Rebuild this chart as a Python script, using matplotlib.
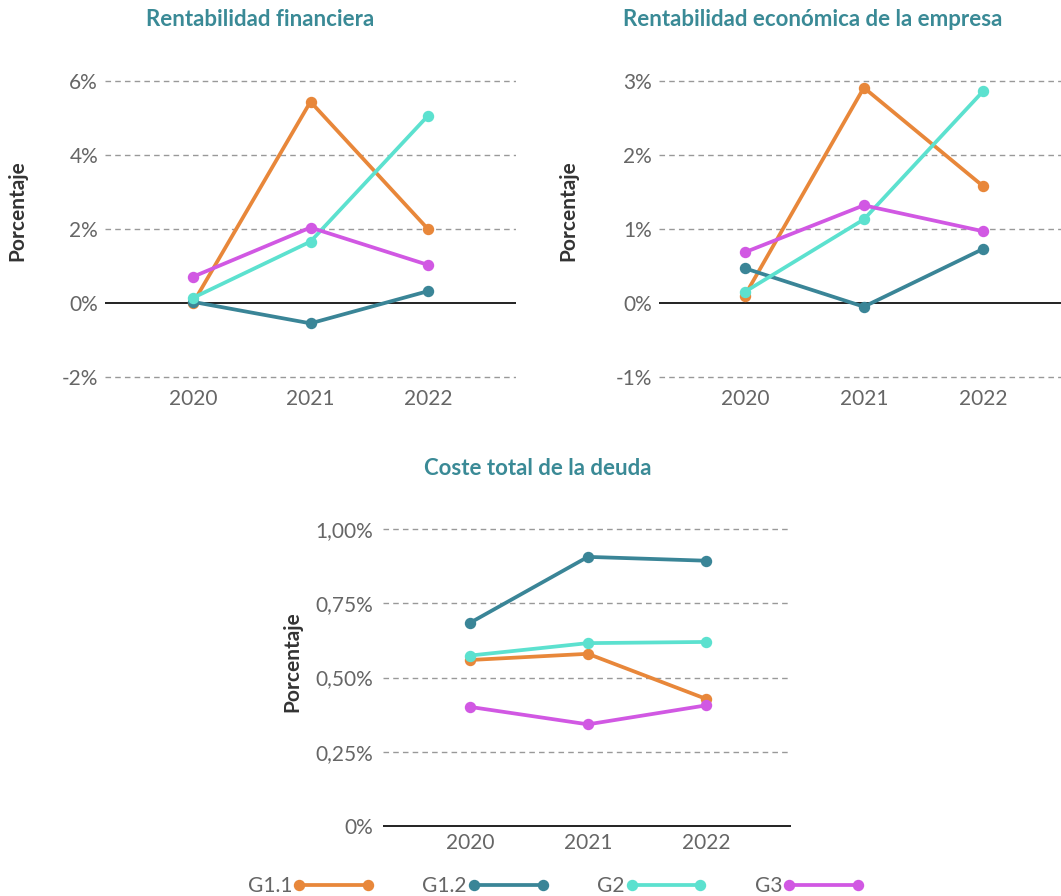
import matplotlib
matplotlib.use("Agg")
import matplotlib.pyplot as plt
from matplotlib.lines import Line2D

years = ["2020", "2021", "2022"]
groups = ["G1.1", "G1.2", "G2", "G3"]
colors = ["#E8873A", "#3A8597", "#5CE1CF", "#D158E3"]

# Rentabilidad financiera (%)
rf = {
    "G1.1": [0.00, 5.44, 2.00],
    "G1.2": [0.03, -0.55, 0.32],
    "G2":   [0.14, 1.66, 5.06],
    "G3":   [0.71, 2.04, 1.03],
}
rf_ticks = [-2, 0, 2, 4, 6]
rf_labels = ["-2%", "0%", "2%", "4%", "6%"]

# Rentabilidad económica de la empresa (%)
re = {
    "G1.1": [0.10, 2.91, 1.58],
    "G1.2": [0.47, -0.05, 0.73],
    "G2":   [0.15, 1.13, 2.86],
    "G3":   [0.685, 1.32, 0.97],
}
re_ticks = [-1, 0, 1, 2, 3]
re_labels = ["-1%", "0%", "1%", "2%", "3%"]

# Coste total de la deuda (%)
ct = {
    "G1.1": [0.559, 0.580, 0.428],
    "G1.2": [0.684, 0.907, 0.894],
    "G2":   [0.574, 0.616, 0.620],
    "G3":   [0.401, 0.342, 0.406],
}
ct_ticks = [0, 0.25, 0.5, 0.75, 1.0]
ct_labels = ["0%", "0,25%", "0,50%", "0,75%", "1,00%"]

W, H = 1061, 896
fig = plt.figure(figsize=(W / 100, H / 100), dpi=100)

FONT = "Lato"
TICK_COLOR = "#666666"
TITLE_COLOR = "#3A8A96"


def px_axes(x0, x1, ytop, ybot):
    return fig.add_axes([x0 / W, 1 - ybot / H, (x1 - x0) / W, (ybot - ytop) / H])


def style(ax, data, ticks, labels, xlim, ylim, ypad):
    x = list(range(len(years)))
    for g, c in zip(groups, colors):
        ax.plot(x, data[g], color=c, lw=2.7, marker="o", ms=7.2,
                solid_capstyle="round", zorder=3, clip_on=False)
    ax.set_xlim(*xlim)
    ax.set_ylim(*ylim)
    ax.set_yticks(ticks)
    ax.set_yticklabels(labels)
    ax.set_xticks(x)
    ax.set_xticklabels(years)
    for s in ax.spines.values():
        s.set_visible(False)
    for t in ticks:
        if t == 0:
            ax.axhline(0, color="#222222", lw=1.4, zorder=2)
        else:
            ax.axhline(t, color="#999999", lw=1.0, ls=(0, (4, 3)), zorder=1)
    ax.tick_params(axis="both", length=0, labelsize=15, labelcolor=TICK_COLOR)
    ax.tick_params(axis="y", pad=ypad)
    ax.tick_params(axis="x", pad=3)
    for lab in ax.get_xticklabels() + ax.get_yticklabels():
        lab.set_fontfamily(FONT)
        lab.set_fontweight("normal")
    ax.patch.set_alpha(0)


ax1 = px_axes(105, 516, 73.6, 384.4)
style(ax1, rf, rf_ticks, rf_labels, (-0.75, 2.75), (-2.2, 6.2), 5)

ax2 = px_axes(659, 1061, 73.6, 384.4)
style(ax2, re, re_ticks, re_labels, (-0.72, 2.655), (-1.1, 3.1), 5)

ax3 = px_axes(383, 791, 520.4, 828.7)
style(ax3, ct, ct_ticks, ct_labels, (-0.735, 2.72), (-0.01, 1.03), 7)

# Titles
for txt, xc, yc in [("Rentabilidad financiera", 260, 20),
                    ("Rentabilidad económica de la empresa", 813, 20),
                    ("Coste total de la deuda", 538, 468)]:
    fig.text(xc / W, 1 - yc / H, txt, ha="center", va="center", fontsize=16,
             fontweight="bold", color=TITLE_COLOR, family=FONT)

# Y labels
for xc, yc in [(17, 211), (568, 211), (292, 662)]:
    fig.text(xc / W, 1 - yc / H, "Porcentaje", ha="center", va="center",
             rotation=90, fontsize=15, fontweight="bold", color="#333333",
             family=FONT)

# Legend
handles = [Line2D([0], [0], color=c, lw=2.7, marker="o", ms=7.2) for c in colors]
leg = fig.legend(handles, groups, loc="center", ncol=4, frameon=False,
                 bbox_to_anchor=(556 / W, 1 - 886 / H), markerfirst=False,
                 numpoints=2, handlelength=3.9, handletextpad=0.05,
                 columnspacing=2.3, prop={"family": FONT, "size": 15,
                                          "weight": "normal"})
for t in leg.get_texts():
    t.set_color(TICK_COLOR)

fig.savefig("out.png", dpi=100)
